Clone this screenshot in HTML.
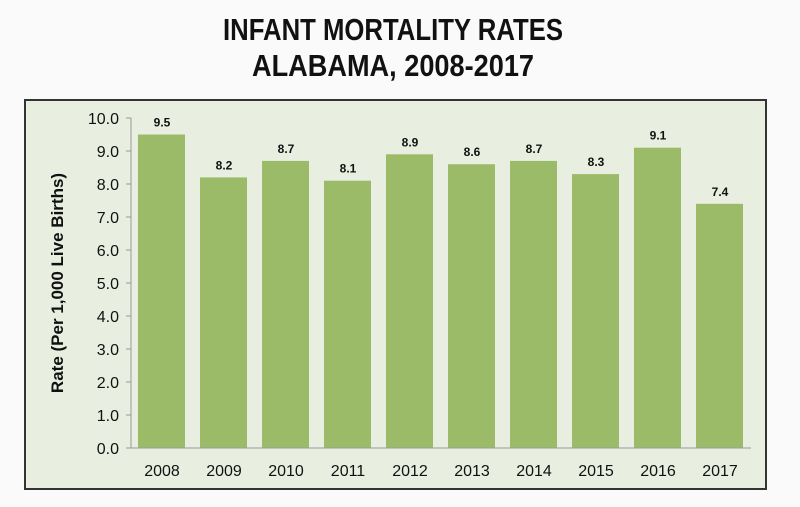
<!DOCTYPE html>
<html><head><meta charset="utf-8"><style>
body{margin:0;background:#fafafa;}
svg{display:block;font-family:"Liberation Sans",sans-serif;}
</style></head><body>
<svg width="800" height="507">
<rect x="0" y="0" width="800" height="507" fill="#fafafa"/>
<text x="393" y="40" text-anchor="middle" font-size="31" font-weight="bold" textLength="340" lengthAdjust="spacingAndGlyphs" fill="#111">INFANT MORTALITY RATES</text>
<text x="393" y="76" text-anchor="middle" font-size="31" font-weight="bold" textLength="282" lengthAdjust="spacingAndGlyphs" fill="#111">ALABAMA, 2008-2017</text>
<rect x="25" y="100" width="741" height="389" fill="#e9efe0" stroke="#333" stroke-width="2"/>
<g id="g"></g>
</svg>
<script>
const years=["2008","2009","2010","2011","2012","2013","2014","2015","2016","2017"];
const rates=[9.5,8.2,8.7,8.1,8.9,8.6,8.7,8.3,9.1,7.4];
const yTicks=[0,1,2,3,4,5,6,7,8,9,10];
const X0=131,CW=62,Y0=448,Y10=118;
const y=v=>Y0-(Y0-Y10)*v/10;
const x=i=>X0+i*CW;
const ns="http://www.w3.org/2000/svg",g=document.getElementById('g');
function mk(t,a,txt){const e=document.createElementNS(ns,t);for(const k in a)e.setAttribute(k,a[k]);if(txt!=null)e.textContent=txt;g.appendChild(e);return e;}
yTicks.forEach(v=>{
 const t=mk('line',{x1:X0-5,x2:X0,y1:y(v),y2:y(v),stroke:'#999'});
 
 
 const l=mk('text',{x:X0-12,y:y(v)+6,'text-anchor':'end','font-size':16,fill:'#111'},v.toFixed(1));
 
 
});
rates.forEach((v,i)=>{
 const b=mk('rect',{x:x(i)+7,y:y(v),width:47,height:Y0-y(v),fill:'#9bbb69'});
 
 
 const l=mk('text',{x:x(i)+31,y:y(v)-8,'text-anchor':'middle','font-size':12,'font-weight':'bold',fill:'#111'},v.toFixed(1));
 
 
 const c=mk('text',{x:x(i)+31,y:476,'text-anchor':'middle','font-size':16,fill:'#111'},years[i]);
 
 
});
const ya=mk('line',{x1:X0,x2:X0,y1:Y10,y2:Y0,stroke:'#999'});


const xa=mk('line',{x1:X0-5,x2:X0+CW*10,y1:Y0,y2:Y0,stroke:'#999'});


const yt=mk('text',{x:0,y:0,transform:'translate(63,283) rotate(-90)','text-anchor':'middle','font-size':17,'font-weight':'bold',fill:'#111'},'Rate (Per 1,000 Live Births)');


</script>
</body></html>
